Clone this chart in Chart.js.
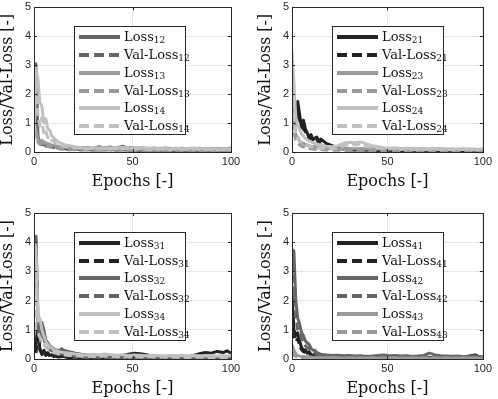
<!DOCTYPE html>
<html>
<head>
<meta charset="utf-8">
<script src="https://cdn.jsdelivr.net/npm/chart.js@4.4.1/dist/chart.umd.min.js"></script>
<style>
    body { margin: 0; background: #fff; }
    #wrap { position: relative; width: 498px; height: 399px; overflow: hidden; }
    .panel { position: absolute; width: 249px; }
    .legend {
        position: absolute; box-sizing: border-box; width: 112px; height: 109px;
        background: #fff; border: 1px solid #262626; padding-top: 1px;
        font-family: "DejaVu Serif", serif; font-size: 13px; color: #111;
        white-space: nowrap;
    }
    .legend .row { display: flex; align-items: center; height: 17.8px; }
    .legend .sample { width: 41px; height: 4px; margin-left: 4px; margin-right: 4px; flex: none; }
    .legend .txt { display: inline-block; line-height: 13px; margin-top: -1px; }
    .legend sub { font-size: 9px; line-height: 0; vertical-align: -2px; }
</style>
</head>
<body>
<div id="wrap">
    <div class="panel" id="p1" style="left:0;top:0;height:200px"><canvas id="c1"></canvas></div>
    <div class="panel" id="p2" style="left:249px;top:0;height:200px"><canvas id="c2"></canvas></div>
    <div class="panel" id="p3" style="left:0;top:200px;height:199px"><canvas id="c3"></canvas></div>
    <div class="panel" id="p4" style="left:249px;top:200px;height:199px"><canvas id="c4"></canvas></div>
</div>
<script>
// Epochs at which values are sampled (dense at the start, every 3 epochs later)
const epochs = [0,1,2,3,4,5,6,7,8,9,10,11,12,13,14,15,18,21,24,27,30,33,36,39,42,45,48,51,54,57,60,63,66,69,72,75,78,81,84,87,90,93,96,98,100];

const xTicks = [0, 50, 100];
const yTicks = [0, 1, 2, 3, 4, 5];

// Panel 1
const loss12 = [0.70,3.05,0.55,0.30,0.25,0.35,0.20,0.28,0.18,0.22,0.15,0.20,0.14,0.12,0.10,0.12,0.08,0.10,0.07,0.09,0.06,0.08,0.07,0.09,0.06,0.08,0.06,0.07,0.05,0.07,0.06,0.05,0.07,0.05,0.06,0.04,0.06,0.05,0.04,0.06,0.05,0.04,0.05,0.06,0.05];
const val12  = [0.50,2.90,0.35,0.28,0.32,0.25,0.30,0.22,0.25,0.20,0.22,0.18,0.20,0.17,0.16,0.18,0.14,0.16,0.13,0.15,0.14,0.18,0.15,0.17,0.14,0.20,0.16,0.13,0.15,0.12,0.14,0.11,0.13,0.12,0.10,0.13,0.11,0.12,0.10,0.11,0.09,0.12,0.10,0.11,0.14];
const loss13 = [1.00,0.80,0.45,0.35,0.40,0.30,0.32,0.25,0.28,0.22,0.24,0.20,0.21,0.18,0.19,0.17,0.15,0.14,0.16,0.13,0.15,0.14,0.16,0.13,0.15,0.17,0.14,0.13,0.15,0.12,0.13,0.11,0.14,0.12,0.13,0.10,0.12,0.11,0.13,0.10,0.12,0.10,0.11,0.10,0.12];
const val13  = [0.80,0.60,0.35,0.28,0.30,0.22,0.25,0.18,0.20,0.15,0.17,0.13,0.14,0.11,0.12,0.10,0.09,0.08,0.10,0.07,0.09,0.08,0.10,0.07,0.08,0.09,0.07,0.06,0.08,0.06,0.07,0.05,0.07,0.06,0.05,0.06,0.05,0.06,0.04,0.05,0.04,0.05,0.04,0.05,0.04];
const loss14 = [0.40,2.90,2.50,1.70,1.60,1.00,1.15,0.80,0.75,0.55,0.50,0.42,0.38,0.32,0.30,0.26,0.22,0.18,0.15,0.13,0.16,0.14,0.12,0.15,0.13,0.16,0.14,0.12,0.15,0.13,0.11,0.14,0.12,0.10,0.13,0.11,0.12,0.14,0.11,0.12,0.10,0.11,0.09,0.10,0.11];
const val14  = [0.80,2.20,1.30,0.90,1.20,0.60,0.70,0.50,0.55,0.40,0.38,0.30,0.28,0.25,0.22,0.20,0.17,0.14,0.12,0.10,0.12,0.10,0.09,0.11,0.10,0.12,0.10,0.09,0.11,0.09,0.08,0.10,0.09,0.08,0.10,0.08,0.09,0.10,0.08,0.09,0.07,0.08,0.07,0.08,0.09];

// Panel 2
const loss21 = [1.40,0.90,1.00,1.75,1.30,0.85,1.10,0.80,0.65,0.50,0.60,0.42,0.48,0.52,0.35,0.45,0.30,0.22,0.15,0.12,0.10,0.08,0.09,0.07,0.08,0.06,0.07,0.08,0.06,0.09,0.07,0.06,0.08,0.07,0.06,0.05,0.07,0.06,0.05,0.06,0.05,0.06,0.05,0.04,0.05];
const val21  = [1.30,0.85,0.95,1.45,1.10,0.90,0.80,0.70,0.60,0.45,0.50,0.40,0.38,0.42,0.30,0.35,0.25,0.18,0.12,0.10,0.08,0.07,0.06,0.08,0.06,0.07,0.05,0.06,0.07,0.05,0.06,0.05,0.07,0.05,0.06,0.04,0.05,0.06,0.04,0.05,0.04,0.05,0.04,0.05,0.04];
const loss23 = [2.00,1.00,0.60,0.50,0.38,0.32,0.30,0.26,0.24,0.22,0.20,0.19,0.18,0.17,0.16,0.15,0.13,0.12,0.11,0.12,0.10,0.11,0.12,0.10,0.11,0.10,0.12,0.11,0.13,0.11,0.10,0.12,0.10,0.11,0.09,0.10,0.11,0.09,0.10,0.08,0.09,0.10,0.08,0.09,0.10];
const val23  = [1.50,0.70,0.40,0.30,0.25,0.20,0.18,0.15,0.14,0.12,0.11,0.10,0.09,0.10,0.08,0.09,0.07,0.06,0.07,0.05,0.06,0.05,0.06,0.04,0.05,0.04,0.05,0.04,0.06,0.05,0.04,0.05,0.04,0.05,0.03,0.04,0.05,0.04,0.03,0.04,0.03,0.04,0.03,0.04,0.03];
const loss24 = [3.50,2.40,1.20,0.90,0.80,0.62,0.55,0.48,0.42,0.38,0.35,0.32,0.30,0.28,0.26,0.25,0.20,0.18,0.22,0.30,0.34,0.32,0.35,0.28,0.22,0.18,0.15,0.13,0.14,0.12,0.13,0.11,0.12,0.10,0.11,0.12,0.10,0.11,0.09,0.10,0.11,0.09,0.10,0.09,0.10];
const val24  = [3.00,1.50,0.60,0.45,0.40,0.32,0.28,0.25,0.22,0.20,0.18,0.17,0.16,0.15,0.14,0.13,0.12,0.10,0.14,0.22,0.26,0.24,0.28,0.20,0.16,0.13,0.11,0.10,0.11,0.09,0.10,0.08,0.09,0.08,0.09,0.10,0.08,0.09,0.07,0.08,0.09,0.07,0.08,0.07,0.08];

// Panel 3
const loss31 = [0.70,0.50,1.20,0.30,0.20,0.30,0.15,0.22,0.12,0.15,0.10,0.12,0.09,0.10,0.08,0.09,0.07,0.06,0.08,0.06,0.07,0.06,0.08,0.07,0.09,0.12,0.16,0.20,0.18,0.15,0.10,0.08,0.07,0.08,0.06,0.07,0.08,0.12,0.18,0.22,0.20,0.26,0.22,0.28,0.20];
const val31  = [0.60,0.20,0.90,0.35,0.15,0.25,0.12,0.18,0.10,0.12,0.08,0.10,0.07,0.08,0.06,0.07,0.05,0.04,0.06,0.05,0.04,0.05,0.04,0.05,0.04,0.06,0.05,0.04,0.05,0.04,0.03,0.04,0.05,0.04,0.03,0.04,0.05,0.04,0.06,0.05,0.04,0.05,0.04,0.05,0.04];
const loss32 = [4.20,4.20,1.50,0.80,1.25,1.00,0.65,0.55,0.45,0.40,0.35,0.32,0.30,0.28,0.35,0.30,0.25,0.20,0.16,0.14,0.12,0.13,0.11,0.12,0.10,0.11,0.09,0.10,0.11,0.09,0.10,0.08,0.09,0.08,0.10,0.08,0.09,0.07,0.08,0.09,0.07,0.08,0.07,0.08,0.07];
const val32  = [3.50,4.10,1.00,0.60,0.90,0.70,0.45,0.40,0.32,0.28,0.25,0.22,0.20,0.19,0.18,0.16,0.13,0.10,0.08,0.07,0.06,0.07,0.05,0.06,0.05,0.06,0.04,0.05,0.06,0.04,0.05,0.04,0.05,0.04,0.05,0.04,0.05,0.04,0.03,0.04,0.03,0.04,0.03,0.04,0.03];
const loss34 = [4.00,3.80,1.30,1.40,1.00,0.80,0.60,0.50,0.42,0.38,0.32,0.30,0.27,0.25,0.23,0.22,0.20,0.17,0.15,0.13,0.16,0.14,0.17,0.15,0.13,0.15,0.12,0.14,0.13,0.11,0.13,0.12,0.10,0.12,0.11,0.13,0.10,0.12,0.11,0.10,0.12,0.10,0.11,0.10,0.12];
const val34  = [2.50,1.00,0.90,0.75,0.60,0.50,0.40,0.35,0.30,0.26,0.22,0.20,0.18,0.16,0.15,0.14,0.12,0.10,0.09,0.08,0.09,0.08,0.10,0.08,0.07,0.08,0.07,0.08,0.06,0.07,0.08,0.06,0.07,0.06,0.07,0.06,0.05,0.06,0.07,0.05,0.06,0.05,0.06,0.05,0.06];

// Panel 4
const loss41 = [2.30,1.00,0.80,0.90,0.60,0.40,0.30,0.32,0.20,0.25,0.15,0.14,0.12,0.11,0.10,0.09,0.08,0.07,0.06,0.07,0.05,0.06,0.05,0.06,0.05,0.04,0.05,0.04,0.05,0.04,0.05,0.04,0.03,0.04,0.05,0.04,0.03,0.04,0.05,0.04,0.06,0.10,0.14,0.08,0.06];
const val41  = [1.80,0.80,0.60,0.70,0.45,0.32,0.25,0.22,0.16,0.18,0.12,0.10,0.09,0.08,0.07,0.07,0.06,0.05,0.04,0.05,0.04,0.05,0.04,0.03,0.04,0.03,0.04,0.03,0.04,0.03,0.04,0.03,0.04,0.03,0.04,0.03,0.02,0.03,0.04,0.03,0.04,0.03,0.04,0.03,0.04];
const loss42 = [3.75,3.70,2.00,1.40,1.20,0.90,0.80,0.62,0.55,0.50,0.36,0.30,0.30,0.22,0.20,0.16,0.14,0.12,0.13,0.11,0.12,0.10,0.11,0.09,0.10,0.12,0.14,0.11,0.12,0.10,0.11,0.09,0.10,0.12,0.20,0.14,0.11,0.10,0.09,0.10,0.08,0.09,0.10,0.09,0.08];
const val42  = [3.30,2.50,1.50,1.00,0.90,0.70,0.60,0.45,0.40,0.35,0.25,0.22,0.20,0.16,0.15,0.12,0.10,0.09,0.08,0.07,0.08,0.06,0.07,0.06,0.05,0.06,0.07,0.05,0.06,0.05,0.06,0.05,0.04,0.05,0.08,0.06,0.05,0.04,0.05,0.04,0.05,0.04,0.05,0.04,0.05];
const loss43 = [0.50,0.30,0.18,0.12,0.10,0.08,0.09,0.07,0.08,0.06,0.07,0.06,0.05,0.06,0.05,0.05,0.04,0.05,0.04,0.03,0.04,0.03,0.04,0.03,0.04,0.03,0.04,0.03,0.04,0.03,0.03,0.04,0.03,0.04,0.03,0.04,0.03,0.04,0.03,0.03,0.04,0.03,0.04,0.03,0.03];
const val43  = [0.25,0.12,0.08,0.06,0.05,0.05,0.04,0.04,0.03,0.04,0.03,0.03,0.03,0.02,0.03,0.02,0.02,0.03,0.02,0.02,0.03,0.02,0.02,0.03,0.02,0.02,0.02,0.03,0.02,0.02,0.02,0.03,0.02,0.02,0.02,0.02,0.03,0.02,0.02,0.02,0.02,0.03,0.02,0.02,0.02];

// grey shade per model index (1..4)
const shades = { 1: '#222222', 2: '#666666', 3: '#9a9a9a', 4: '#c0c0c0' };
const AXIS = '#262626';
const SERIF = '"DejaVu Serif", serif';
const SANS = '"Liberation Sans", Arial, sans-serif';

// Box around the plot area plus MATLAB-style inward tick marks
const boxPlugin = {
    id: 'box',
    afterDraw(chart) {
        const { ctx, chartArea: a, scales } = chart;
        ctx.save();
        ctx.strokeStyle = AXIS;
        ctx.lineWidth = 1;
        ctx.beginPath();
        scales.y.ticks.forEach(t => {
            const y = Math.round(scales.y.getPixelForValue(t.value)) + 0.5;
            ctx.moveTo(a.left, y); ctx.lineTo(a.left + 3, y);
            ctx.moveTo(a.right, y); ctx.lineTo(a.right - 3, y);
        });
        scales.x.ticks.forEach(t => {
            const x = Math.round(scales.x.getPixelForValue(t.value)) + 0.5;
            ctx.moveTo(x, a.bottom); ctx.lineTo(x, a.bottom - 3);
            ctx.moveTo(x, a.top); ctx.lineTo(x, a.top + 3);
        });
        ctx.stroke();
        ctx.strokeRect(Math.round(a.left) + 0.5, Math.round(a.top) + 0.5,
                       Math.round(a.right - a.left), Math.round(a.bottom - a.top));
        ctx.restore();
    }
};

function buildLegend(panel, chart, pairs) {
    const box = document.createElement('div');
    box.className = 'legend';
    pairs.forEach(p => {
        const solid = `background:${p.color}`;
        const dashed = `background:repeating-linear-gradient(to right, ${p.color} 0 10px, transparent 10px 15px)`;
        box.innerHTML +=
            `<div class="row"><span class="sample" style="${solid}"></span><span class="txt">Loss<sub>${p.id}</sub></span></div>` +
            `<div class="row"><span class="sample" style="${dashed}"></span><span class="txt">Val-Loss<sub>${p.id}</sub></span></div>`;
    });
    const a = chart.chartArea;
    box.style.left = (a.left + 40) + 'px';
    box.style.top = (a.top + 19) + 'px';
    panel.appendChild(box);
}

function makePanel(canvasId, panelId, pairs, lay) {
    const datasets = [];
    pairs.forEach(p => {
        datasets.push({
            label: 'Loss' + p.id,
            data: epochs.map((e, i) => ({ x: e, y: p.loss[i] })),
            borderColor: p.color, borderWidth: 3
        });
        datasets.push({
            label: 'Val-Loss' + p.id,
            data: epochs.map((e, i) => ({ x: e, y: p.val[i] })),
            borderColor: p.color, borderWidth: 3, borderDash: [8, 4]
        });
    });
    // later series are drawn on top, as in the original plot
    datasets.forEach((d, i) => { d.order = datasets.length - i; });

    const chart = new Chart(document.getElementById(canvasId), {
        type: 'line',
        data: { datasets },
        plugins: [boxPlugin],
        options: {
            responsive: true,
            maintainAspectRatio: false,
            animation: false,
            layout: { padding: lay.padding },
            elements: { point: { radius: 0 }, line: { tension: 0, borderJoinStyle: 'round' } },
            plugins: { legend: { display: false }, tooltip: { enabled: false } },
            scales: {
                x: {
                    type: 'linear', min: 0, max: 100,
                    afterBuildTicks: s => { s.ticks = xTicks.map(v => ({ value: v })); },
                    ticks: { color: AXIS, padding: 6, maxRotation: 0,
                             font: { family: SANS, size: 11, lineHeight: 0.8 } },
                    grid: { color: '#e6e6e6', drawTicks: false },
                    border: { display: false },
                    title: { display: true, text: 'Epochs [-]', color: '#111', padding: 0,
                             font: { family: SERIF, size: 16, lineHeight: 1 } },
                    afterFit: s => { s.height = lay.xHeight; }
                },
                y: {
                    min: 0, max: 5,
                    afterBuildTicks: s => { s.ticks = yTicks.map(v => ({ value: v })); },
                    ticks: { color: AXIS, padding: 3,
                             font: { family: SANS, size: 11, lineHeight: 0.8 } },
                    grid: { color: '#e6e6e6', drawTicks: false },
                    border: { display: false },
                    title: { display: true, text: 'Loss/Val-Loss [-]', color: '#111', padding: 0,
                             font: { family: SERIF, size: 16, lineHeight: 1 } },
                    afterFit: s => { s.width = lay.yWidth; }
                }
            }
        }
    });
    buildLegend(document.getElementById(panelId), chart, pairs);
    return chart;
}

makePanel('c1', 'p1', [
    { id: '12', loss: loss12, val: val12, color: shades[2] },
    { id: '13', loss: loss13, val: val13, color: shades[3] },
    { id: '14', loss: loss14, val: val14, color: shades[4] }
], { padding: { left: 0, right: 18, top: 5, bottom: 10 }, yWidth: 34, xHeight: 38 });

makePanel('c2', 'p2', [
    { id: '21', loss: loss21, val: val21, color: shades[1] },
    { id: '23', loss: loss23, val: val23, color: shades[3] },
    { id: '24', loss: loss24, val: val24, color: shades[4] }
], { padding: { left: 9, right: 10, top: 5, bottom: 10 }, yWidth: 34, xHeight: 38 });

makePanel('c3', 'p3', [
    { id: '31', loss: loss31, val: val31, color: shades[1] },
    { id: '32', loss: loss32, val: val32, color: shades[2] },
    { id: '34', loss: loss34, val: val34, color: shades[4] }
], { padding: { left: 0, right: 18, top: 13, bottom: 2 }, yWidth: 34, xHeight: 38 });

makePanel('c4', 'p4', [
    { id: '41', loss: loss41, val: val41, color: shades[1] },
    { id: '42', loss: loss42, val: val42, color: shades[2] },
    { id: '43', loss: loss43, val: val43, color: shades[3] }
], { padding: { left: 9, right: 10, top: 13, bottom: 2 }, yWidth: 34, xHeight: 38 });
</script>
</body>
</html>
